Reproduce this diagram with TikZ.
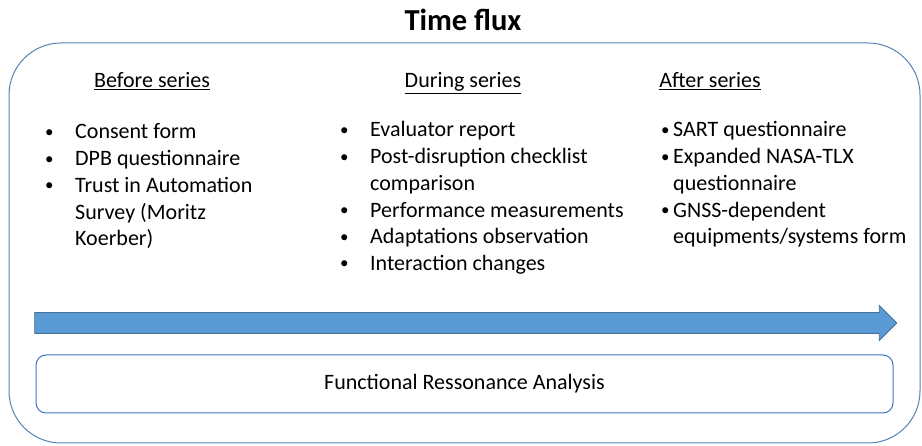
\documentclass[tikz,border=0pt]{standalone}
\usepackage{fontspec}
\setmainfont{Carlito}
\usetikzlibrary{shapes.arrows}

\definecolor{frameblue}{RGB}{84,130,176}
\definecolor{arrowblue}{RGB}{91,155,213}
\definecolor{arrowedge}{RGB}{65,113,156}
\definecolor{boxblue}{RGB}{68,114,196}

\tikzset{
  heading/.style={anchor=base, font=\fontsize{22}{26}\selectfont},
  column/.style={anchor=base west, inner sep=0pt, align=left,
    font=\fontsize{22}{26.7}\selectfont},
}
\newcommand{\ul}[1]{\underline{#1}}
\newcommand{\dotmark}{\raisebox{1.5pt}{\fontsize{17}{17}\selectfont\textbullet}}

\begin{document}
\begin{tikzpicture}[x=1pt,y=-1pt]
\useasboundingbox (0,0) rectangle (922,446);

\node[font=\bfseries\fontsize{30.5}{34}\selectfont] (title) at (463,20) {Time flux};

\draw[frameblue, line width=1pt, rounded corners=52pt] (9,43) rectangle (920,443);

\node[heading] (before) at (152,88) {\ul{Before series}};
\node[heading] (during) at (463,88) {\ul{During series}};
\node[heading] (after) at (710,88) {\ul{After series}};

\node[column] (beforelist) at (45,139) {\begin{tabular}[t]{@{}p{30pt}@{}l@{}}
\dotmark & Consent form\\
\dotmark & DPB questionnaire\\
\dotmark & Trust in Automation\\
 & Survey (Moritz\\
 & Koerber)
\end{tabular}};

\node[column] (duringlist) at (340,137) {\begin{tabular}[t]{@{}p{30pt}@{}l@{}}
\dotmark & Evaluator report\\
\dotmark & Post-disruption checklist\\
 & comparison\\
\dotmark & Performance measurements\\
\dotmark & Adaptations observation\\
\dotmark & Interaction changes
\end{tabular}};

\node[column] (afterlist) at (661,137) {\begin{tabular}[t]{@{}p{12pt}@{}l@{}}
\dotmark & SART questionnaire\\
\dotmark & Expanded NASA-TLX\\
 & questionnaire\\
\dotmark & GNSS-dependent\\
 & equipments/systems form
\end{tabular}};

\node[single arrow, draw=arrowedge, fill=arrowblue, line width=0.8pt,
  inner sep=10pt, minimum height=862pt, single arrow head extend=7pt] (flux) at (460.5,323) {};

\node[draw=boxblue, line width=1pt, rounded corners=10pt, minimum width=857pt,
  minimum height=58pt, font=\fontsize{22}{26}\selectfont] (fra) at (464.5,384)
  {Functional Ressonance Analysis};
\end{tikzpicture}
\end{document}
